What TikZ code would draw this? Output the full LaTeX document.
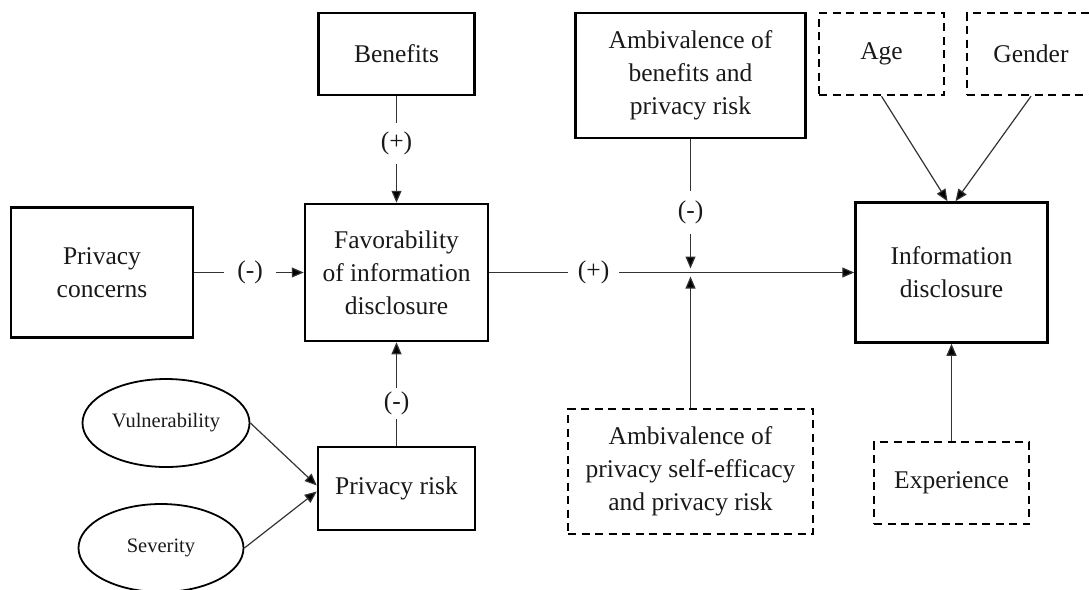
\documentclass[tikz,border=0pt]{standalone}
\usepackage{fontspec}
\setmainfont{Liberation Serif}
\usetikzlibrary{arrows.meta,shapes.geometric}
\begin{document}
\begin{tikzpicture}[x=1pt,y=-1pt,
  every node/.style={font=\fontsize{25.5}{33}\selectfont, align=center, inner sep=0pt, text=black!90},
  solidbox/.style={draw, line width=2.5pt},
  dashbox/.style={draw, line width=2.5pt, dash pattern=on 8pt off 5.5pt},
  oval/.style={draw, ellipse, line width=1.8pt, font=\fontsize{20.5}{24}\selectfont},
  link/.style={line width=1.2pt, draw=black!80, -{Triangle[length=12pt,width=10pt,fill=black]}},
  sign/.style={fill=white, inner xsep=10pt, inner ysep=8pt}
]
\useasboundingbox (0,0) rectangle (1089,589);

% boxes
\node[solidbox, minimum width=182pt, minimum height=130pt] (pc) at (102,272.5) {Privacy\\concerns};
\node[solidbox, minimum width=183pt, minimum height=137pt] (fav) at (396.5,272.5) {Favorability\\of information\\disclosure};
\node[solidbox, minimum width=156pt, minimum height=82pt] (ben) at (396.5,54) {Benefits};
\node[solidbox, minimum width=157pt, minimum height=83pt] (prisk) at (396.5,488.5) {Privacy risk};
\node[oval, minimum width=167pt, minimum height=88pt] (vul) at (166,423) {Vulnerability};
\node[oval, minimum width=165pt, minimum height=88pt] (sev) at (161,548) {Severity};
\node[solidbox, minimum width=230pt, minimum height=125pt] (amb1) at (690.5,75.5) {Ambivalence of\\benefits and\\privacy risk};
\node[dashbox, minimum width=245pt, minimum height=125pt] (amb2) at (690.5,471.5) {Ambivalence of\\privacy self-efficacy\\and privacy risk};
\node[dashbox, minimum width=125pt, minimum height=82pt] (age) at (881.5,54) {Age};
\node[dashbox, minimum width=128pt, minimum height=82pt] (gen) at (1031,54) {Gender};
\node[solidbox, minimum width=192pt, minimum height=140pt] (info) at (951.5,272.5) {Information\\disclosure};
\node[dashbox, minimum width=155pt, minimum height=82pt] (exp) at (951.5,483) {Experience};

\coordinate (jn) at (690.5,272.5);

% connectors
\draw[link] (pc.east) -- node[sign, pos=0.51, inner xsep=13pt]{(-)} (fav.west);
\draw[link] (ben.south) -- node[sign, pos=0.44, inner ysep=9pt]{(+)} (fav.north);
\draw[link] (prisk.north) -- node[sign, pos=0.41, inner ysep=4pt]{(-)} (fav.south);
\draw[link] (vul.east) -- ([yshift=3pt]prisk.west);
\draw[link] (sev.east) -- ([yshift=-3pt]prisk.west);
\draw[link] (fav.east) -- node[sign, pos=0.286]{(+)} (info.west);
\draw[link, shorten >=4pt] (amb1.south) -- node[sign, pos=0.55, inner ysep=10pt]{(-)} (jn);
\draw[link, shorten >=4pt] (amb2.north) -- (jn);
\draw[link] (age.south) -- ([xshift=-4pt]info.north);
\draw[link] (gen.south) -- ([xshift=4pt]info.north);
\draw[link] (exp.north) -- (info.south);
\end{tikzpicture}
\end{document}
